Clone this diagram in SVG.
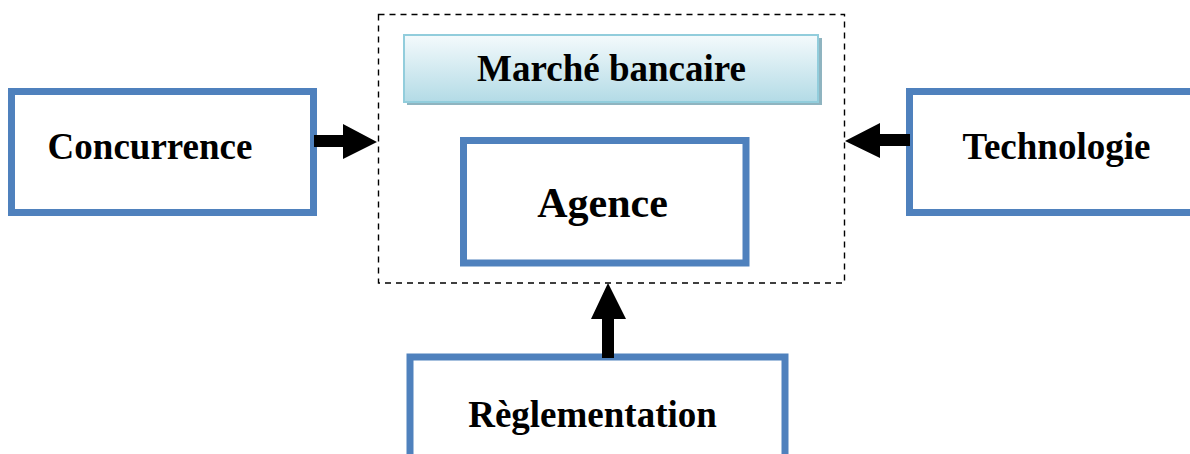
<svg xmlns="http://www.w3.org/2000/svg" width="1190" height="454" viewBox="0 0 1190 454">
  <style>
    .box { fill: #ffffff; stroke: #4f81bd; stroke-width: 7; }
    .lbl { font-family: "Liberation Serif", "Times New Roman", serif; font-weight: bold; font-size: 37px; fill: #000000; text-anchor: middle; }
    .arrow { fill: #000000; stroke: none; }
  </style>
  <defs>
    <linearGradient id="marketFill" x1="0" y1="0" x2="0" y2="1">
      <stop offset="0" stop-color="#f4fafc"/>
      <stop offset="1" stop-color="#b3dbe6"/>
    </linearGradient>
  </defs>

  <rect width="1190" height="454" fill="#ffffff"/>

  <!-- market frame (dashed) -->
  <g id="market-frame">
    <rect x="378.5" y="14.5" width="466" height="268.5" fill="none" stroke="#000000" stroke-width="1.4" stroke-dasharray="6,5"/>
  </g>

  <g id="marche-bancaire">
    <rect x="407" y="38" width="415" height="67" fill="#8fb4c0"/>
    <rect x="404" y="35" width="414" height="67" fill="url(#marketFill)" stroke="#92cddc" stroke-width="2"/>
    <text class="lbl" x="611.5" y="81">Marché bancaire</text>
  </g>

  <g id="agence">
    <rect class="box" x="463.5" y="140.5" width="282.5" height="122.5"/>
    <text class="lbl" x="602.5" y="217" style="font-size:42px">Agence</text>
  </g>

  <g id="concurrence">
    <rect class="box" x="11.5" y="91.5" width="302" height="121"/>
    <text class="lbl" x="150" y="159">Concurrence</text>
  </g>

  <g id="technologie">
    <rect class="box" x="909.5" y="91.5" width="300" height="121"/>
    <text class="lbl" x="1056.5" y="159">Technologie</text>
  </g>

  <g id="reglementation">
    <rect class="box" x="410" y="357" width="375" height="110"/>
    <text class="lbl" x="592.5" y="427">Règlementation</text>
  </g>

  <!-- block arrows pointing into the market frame -->
  <g id="connectors">
    <polygon class="arrow" points="314,135 343,135 343,124 377,142 343,159 343,147 314,147"/>
    <polygon class="arrow" points="910,134 880,134 880,123 845,141 880,158 880,146 910,146"/>
    <polygon class="arrow" points="602,358 602,319 591,319 608,283 626,319 614,319 614,358"/>
  </g>
</svg>
